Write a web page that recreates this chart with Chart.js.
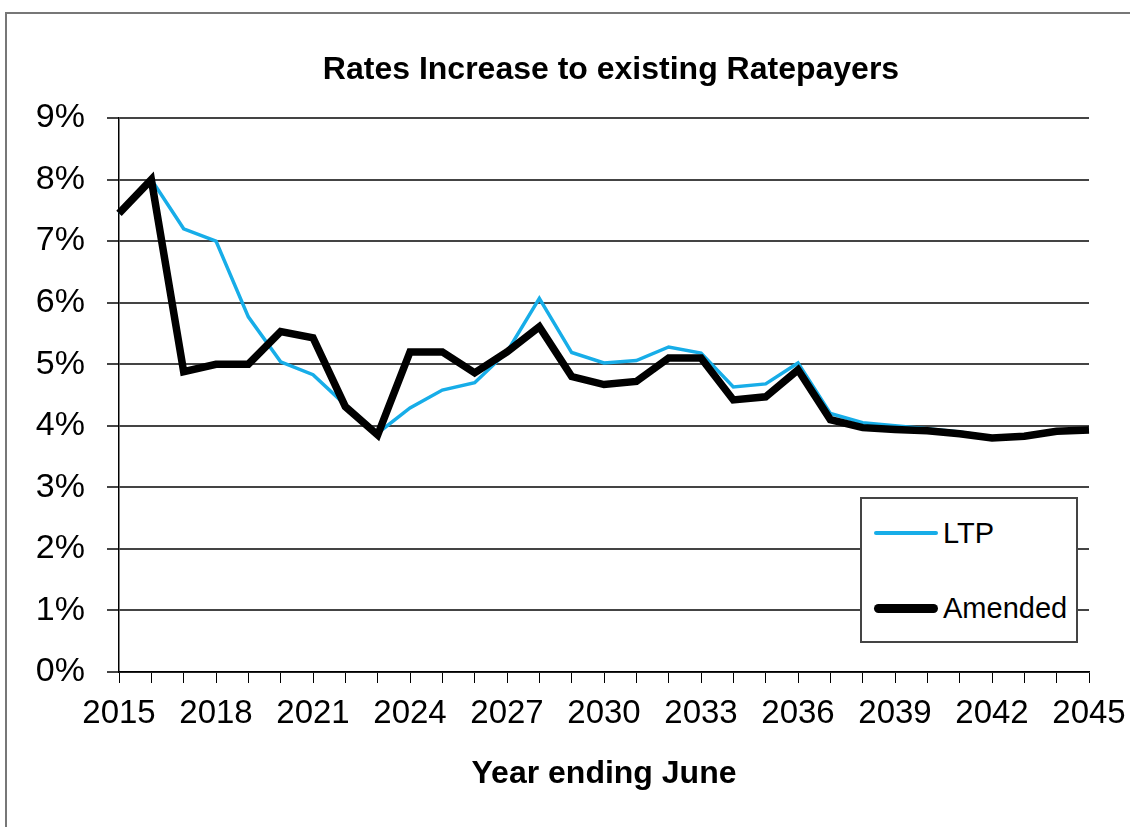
<!DOCTYPE html>
<html>
<head>
<meta charset="utf-8">
<script src="https://cdn.jsdelivr.net/npm/chart.js@4.4.1/dist/chart.umd.min.js"></script>
<style>
  html, body { margin: 0; padding: 0; background: #fff; }
  #wrap { position: relative; width: 1130px; height: 827px; overflow: hidden; }
  #frame { position: absolute; left: 5px; top: 12px; width: 1200px; height: 900px;
           border-left: 2px solid #777; border-top: 2px solid #777; box-sizing: border-box; }
  canvas { position: absolute; left: 0; top: 0; }
  #title { position: absolute; left: 311px; width: 600px; top: 52px; line-height: 32px;
           text-align: center; font-family: "Liberation Sans", Arial, sans-serif;
           font-size: 32px; font-weight: bold; color: #000; white-space: nowrap; }
  #legend { position: absolute; left: 860px; top: 497px; width: 218px; height: 146px;
            border: 2px solid #444; box-sizing: border-box; background: #fff;
            font-family: "Liberation Sans", Arial, sans-serif; font-size: 29px; color: #000; }
  .item { position: absolute; left: 12px; height: 40px; display: flex; align-items: center; }
  .swatch { width: 64px; margin-right: 5px; border-radius: 5px; }
</style>
</head>
<body>
<div id="wrap">
  <div id="frame"></div>
  <canvas id="c" width="1130" height="827"></canvas>
  <div id="title"></div>
  <div id="legend">
    <div class="item" style="top:14px"><div class="swatch" style="height:4px;background:#17ADE8"></div><span id="l0"></span></div>
    <div class="item" style="top:89px"><div class="swatch" style="height:9px;background:#000"></div><span id="l1"></span></div>
  </div>
</div>
<script>
const years = [2015,2016,2017,2018,2019,2020,2021,2022,2023,2024,2025,2026,2027,2028,2029,2030,
               2031,2032,2033,2034,2035,2036,2037,2038,2039,2040,2041,2042,2043,2044,2045];
const ltp = [7.45,8.0,7.2,7.0,5.77,5.04,4.83,4.34,3.88,4.29,4.58,4.7,5.2,6.07,5.19,5.02,
             5.06,5.28,5.18,4.63,4.68,5.02,4.2,4.05,4.0,3.95,3.9,3.82,3.84,3.92,3.93];
const amended = [7.45,8.0,4.88,5.0,5.0,5.53,5.43,4.31,3.85,5.2,5.2,4.86,5.2,5.61,4.8,4.67,
                 4.72,5.1,5.1,4.42,4.47,4.91,4.1,3.97,3.94,3.92,3.87,3.8,3.83,3.91,3.93];
const seriesNames = ['LTP', 'Amended'];
const labelEvery = 3;
const titleText = 'Rates Increase to existing Ratepayers';
const xTitle = 'Year ending June';

document.getElementById('title').textContent = titleText;
document.getElementById('l0').textContent = seriesNames[0];
document.getElementById('l1').textContent = seriesNames[1];

const FONT = '"Liberation Sans", Arial, sans-serif';

new Chart(document.getElementById('c'), {
  type: 'line',
  data: {
    labels: years.map(String),
    datasets: [
      { label: seriesNames[0], data: ltp, borderColor: '#17ADE8', borderWidth: 3.5, pointRadius: 0,
        tension: 0, order: 2, borderJoinStyle: 'miter' },
      { label: seriesNames[1], data: amended, borderColor: '#000', borderWidth: 7.5, pointRadius: 0,
        tension: 0, order: 1, borderJoinStyle: 'miter' }
    ]
  },
  options: {
    responsive: false,
    animation: false,
    devicePixelRatio: 1,
    layout: { padding: { top: 118, left: 0, right: 41, bottom: 0 } },
    plugins: {
      legend: { display: false },
      tooltip: { enabled: false },
      title: { display: false }
    },
    scales: {
      x: {
        type: 'category',
        offset: false,
        afterFit: s => { s.height = 155; s.paddingRight = 0; },
        grid: { display: true, drawOnChartArea: false, drawTicks: true, tickLength: 11,
                color: '#000', lineWidth: 1 },
        border: { display: true, color: '#000', width: 1.5 },
        ticks: {
          autoSkip: false, maxRotation: 0, minRotation: 0, padding: 11, color: '#000',
          font: { family: FONT, size: 33 },
          callback: function(v, i) { return (years[i] - years[0]) % labelEvery === 0 ? String(years[i]) : ''; }
        },
        title: { display: true, text: xTitle, color: '#000',
                 font: { family: FONT, size: 32, weight: 'bold', lineHeight: 1.2 },
                 padding: { top: 0, bottom: 34 } }
      },
      y: {
        min: 0, max: 9,
        afterFit: s => { s.width = 119; },
        grid: { color: '#444', lineWidth: 2, tickLength: 12, drawTicks: true },
        border: { display: true, color: '#000', width: 1.5 },
        ticks: { stepSize: 1, padding: 22, color: '#000',
                 font: { family: FONT, size: 34 },
                 callback: v => v + '%' }
      }
    }
  }
});
</script>
</body>
</html>
